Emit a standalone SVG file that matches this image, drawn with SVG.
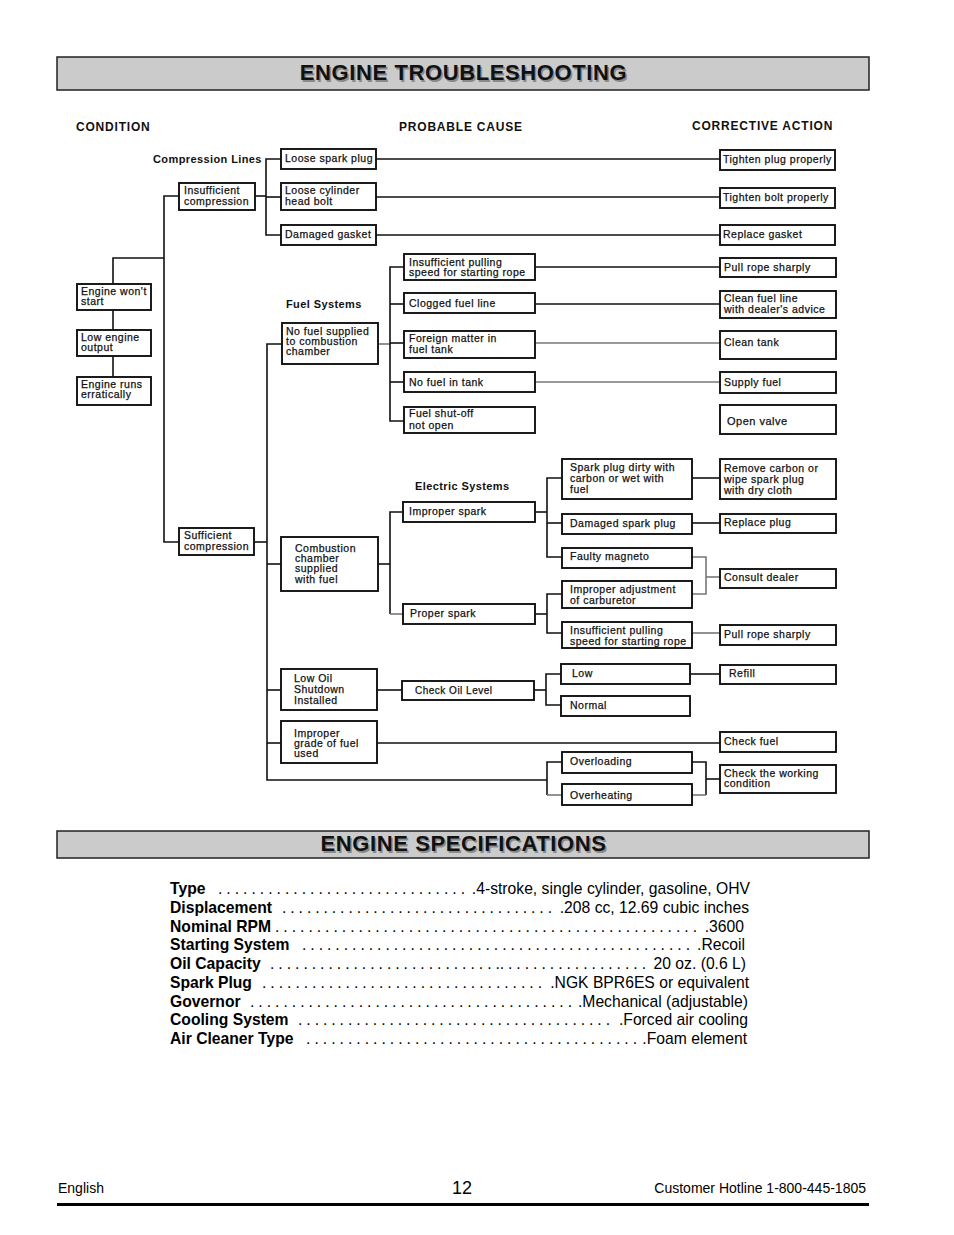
<svg xmlns="http://www.w3.org/2000/svg" width="954" height="1235" viewBox="0 0 954 1235">
<style>
.bx{fill:#fff;stroke:#111;stroke-width:1.9}
.t{font-family:"Liberation Sans",Arial,sans-serif;font-size:10.5px;letter-spacing:0.5px;fill:#111;stroke:#111;stroke-width:0.25}
.h{font-family:"Liberation Sans",Arial,sans-serif;font-size:12px;font-weight:bold;letter-spacing:0.8px;fill:#111}
.s{font-family:"Liberation Sans",Arial,sans-serif;font-size:11px;font-weight:bold;letter-spacing:0.4px;fill:#111}
.c{fill:none;stroke:#111;stroke-width:1.6}
.cg{fill:none;stroke:#777;stroke-width:1.6}
.bar{fill:#cbcbcb;stroke:#222;stroke-width:1.5}
.tt{font-family:"Liberation Sans",Arial,sans-serif;font-size:22px;font-weight:bold;letter-spacing:0.6px;text-anchor:middle}
.sl{font-family:"Liberation Sans",Arial,sans-serif;font-size:15.7px;font-weight:bold;fill:#000}
.sv{font-family:"Liberation Sans",Arial,sans-serif;font-size:15.7px;fill:#000}
.ft{font-family:"Liberation Sans",Arial,sans-serif;font-size:14px;fill:#000}
</style>
<rect width="954" height="1235" fill="#fff"/>

<g id="title-troubleshooting">
<rect class="bar" x="57" y="57" width="812" height="33"/>
<text class="tt" x="465" y="81.5" fill="#8a8a8a">ENGINE TROUBLESHOOTING</text>
<text class="tt" x="463.5" y="80" fill="#111">ENGINE TROUBLESHOOTING</text>
</g>

<g id="column-headers">
<text class="h" x="76" y="131">CONDITION</text>
<text class="h" x="399" y="131">PROBABLE CAUSE</text>
<text class="h" x="692" y="130">CORRECTIVE ACTION</text>
<text class="s" x="153" y="163">Compression Lines</text>
<text class="s" x="286" y="308">Fuel Systems</text>
<text class="s" x="415" y="490">Electric Systems</text>
</g>

<g id="connectors">
<polyline class="c" points="113,284 113,258 164,258"/>
<line class="c" x1="113" y1="310" x2="113" y2="330"/>
<line class="c" x1="113" y1="356" x2="113" y2="377"/>
<polyline class="c" points="179,196 164,196 164,542 179,542"/>
<line class="c" x1="255" y1="196" x2="266" y2="196"/>
<polyline class="c" points="281,159 266,159 266,235 281,235"/>
<line class="c" x1="266" y1="197" x2="281" y2="197"/>
<line class="c" x1="376" y1="159" x2="720" y2="159"/>
<line class="c" x1="376" y1="197" x2="720" y2="197"/>
<line class="c" x1="376" y1="235" x2="720" y2="235"/>
<line class="c" x1="254" y1="542" x2="267" y2="542"/>
<polyline class="c" points="282,344 267,344 267,780 547,780"/>
<line class="cg" x1="378" y1="344" x2="390" y2="344"/>
<polyline class="c" points="404,267 390,267 390,421 404,421"/>
<line class="c" x1="390" y1="304" x2="404" y2="304"/>
<line class="c" x1="390" y1="343" x2="404" y2="343"/>
<line class="c" x1="390" y1="382" x2="404" y2="382"/>
<line class="c" x1="535" y1="267" x2="720" y2="267"/>
<line class="c" x1="535" y1="304" x2="720" y2="304"/>
<line class="cg" x1="535" y1="343" x2="720" y2="343"/>
<line class="cg" x1="535" y1="382" x2="720" y2="382"/>
<line class="c" x1="267" y1="564" x2="281" y2="564"/>
<line class="c" x1="378" y1="564" x2="390" y2="564"/>
<polyline class="c" points="403,512 390,512 390,614"/>
<line class="cg" x1="390" y1="614" x2="403" y2="614"/>
<line class="c" x1="535" y1="512" x2="547" y2="512"/>
<polyline class="c" points="562,478 547,478 547,557 562,557"/>
<line class="c" x1="547" y1="523" x2="562" y2="523"/>
<line class="c" x1="692" y1="478" x2="720" y2="478"/>
<line class="c" x1="692" y1="523" x2="720" y2="523"/>
<polyline class="cg" points="692,557 706,557 706,594 692,594"/>
<line class="cg" x1="706" y1="577" x2="720" y2="577"/>
<line class="c" x1="535" y1="614" x2="547" y2="614"/>
<polyline class="c" points="562,594 547,594 547,633 562,633"/>
<line class="cg" x1="692" y1="633" x2="720" y2="633"/>
<line class="c" x1="267" y1="690" x2="281" y2="690"/>
<line class="c" x1="377" y1="690" x2="402" y2="690"/>
<line class="c" x1="534" y1="690" x2="546" y2="690"/>
<polyline class="c" points="561,674 546,674 546,705 561,705"/>
<line class="c" x1="690" y1="674" x2="720" y2="674"/>
<line class="c" x1="267" y1="743" x2="281" y2="743"/>
<line class="c" x1="377" y1="743" x2="720" y2="743"/>
<polyline class="c" points="562,762 547,762 547,795"/>
<line class="cg" x1="547" y1="795" x2="562" y2="795"/>
<polyline class="c" points="692,762 706,762 706,795"/>
<line class="cg" x1="692" y1="795" x2="706" y2="795"/>
<line class="c" x1="706" y1="779" x2="720" y2="779"/>
</g>

<g id="n-wont-start"><rect class="bx" x="77" y="284" width="74" height="26"/><text class="t" x="81" y="295">Engine won't</text><text class="t" x="81" y="305">start</text></g>
<g id="n-low-output"><rect class="bx" x="77" y="330" width="74" height="26"/><text class="t" x="81" y="341">Low engine</text><text class="t" x="81" y="351">output</text></g>
<g id="n-erratic"><rect class="bx" x="77" y="377" width="74" height="28"/><text class="t" x="81" y="388">Engine runs</text><text class="t" x="81" y="398">erratically</text></g>

<g id="n-insufficient"><rect class="bx" x="179" y="183" width="76" height="27"/><text class="t" x="184" y="194">Insufficient</text><text class="t" x="184" y="205">compression</text></g>
<g id="n-sufficient"><rect class="bx" x="179" y="528" width="75" height="27"/><text class="t" x="184" y="539">Sufficient</text><text class="t" x="184" y="550">compression</text></g>

<g id="n-loose-plug"><rect class="bx" x="281" y="149" width="95" height="20"/><text class="t" x="285" y="162">Loose spark plug</text></g>
<g id="n-loose-bolt"><rect class="bx" x="281" y="183" width="95" height="27"/><text class="t" x="285" y="194">Loose cylinder</text><text class="t" x="285" y="205">head bolt</text></g>
<g id="n-gasket"><rect class="bx" x="281" y="225" width="95" height="20"/><text class="t" x="285" y="238">Damaged gasket</text></g>
<g id="a-tighten-plug"><rect class="bx" x="720" y="150" width="115" height="20"/><text class="t" x="723" y="163">Tighten plug properly</text></g>
<g id="a-tighten-bolt"><rect class="bx" x="720" y="188" width="115" height="20"/><text class="t" x="723" y="201">Tighten bolt properly</text></g>
<g id="a-replace-gasket"><rect class="bx" x="720" y="225" width="115" height="20"/><text class="t" x="723" y="238">Replace gasket</text></g>

<g id="n-no-fuel-supplied"><rect class="bx" x="282" y="323" width="96" height="41"/><text class="t" x="286" y="335">No fuel supplied</text><text class="t" x="286" y="345">to combustion</text><text class="t" x="286" y="355">chamber</text></g>
<g id="n-pulling-1"><rect class="bx" x="404" y="254" width="131" height="26"/><text class="t" x="409" y="266">Insufficient pulling</text><text class="t" x="409" y="276">speed for starting rope</text></g>
<g id="n-clogged"><rect class="bx" x="404" y="293" width="131" height="20"/><text class="t" x="409" y="307">Clogged fuel line</text></g>
<g id="n-foreign"><rect class="bx" x="404" y="331" width="131" height="27"/><text class="t" x="409" y="342">Foreign matter in</text><text class="t" x="409" y="353">fuel tank</text></g>
<g id="n-no-fuel-tank"><rect class="bx" x="404" y="372" width="131" height="20"/><text class="t" x="409" y="386">No fuel in tank</text></g>
<g id="n-shutoff"><rect class="bx" x="404" y="407" width="131" height="26"/><text class="t" x="409" y="417">Fuel shut-off</text><text class="t" x="409" y="429">not open</text></g>
<g id="a-pull-rope-1"><rect class="bx" x="720" y="258" width="116" height="19"/><text class="t" x="724" y="271">Pull rope sharply</text></g>
<g id="a-clean-fuel-line"><rect class="bx" x="720" y="291" width="116" height="27"/><text class="t" x="724" y="302">Clean fuel line</text><text class="t" x="724" y="313">with dealer's advice</text></g>
<g id="a-clean-tank"><rect class="bx" x="720" y="331" width="116" height="28"/><text class="t" x="724" y="346">Clean tank</text></g>
<g id="a-supply-fuel"><rect class="bx" x="720" y="372" width="116" height="21"/><text class="t" x="724" y="386">Supply fuel</text></g>
<g id="a-open-valve"><rect class="bx" x="720" y="405" width="116" height="29"/><text class="t" x="727" y="425" style="font-size:11px">Open valve</text></g>

<g id="n-combustion"><rect class="bx" x="281" y="537" width="97" height="54"/><text class="t" x="295" y="552">Combustion</text><text class="t" x="295" y="562">chamber</text><text class="t" x="295" y="572">supplied</text><text class="t" x="295" y="583">with fuel</text></g>
<g id="n-improper-spark"><rect class="bx" x="403" y="502" width="132" height="20"/><text class="t" x="409" y="515">Improper spark</text></g>
<g id="n-proper-spark"><rect class="bx" x="403" y="604" width="132" height="20"/><text class="t" x="410" y="617">Proper spark</text></g>
<g id="n-plug-dirty"><rect class="bx" x="562" y="459" width="130" height="40"/><text class="t" x="570" y="471">Spark plug dirty with</text><text class="t" x="570" y="482">carbon or wet with</text><text class="t" x="570" y="493">fuel</text></g>
<g id="n-damaged-plug"><rect class="bx" x="562" y="514" width="130" height="20"/><text class="t" x="570" y="527">Damaged spark plug</text></g>
<g id="n-magneto"><rect class="bx" x="562" y="548" width="130" height="20"/><text class="t" x="570" y="560">Faulty magneto</text></g>
<g id="n-carburetor"><rect class="bx" x="562" y="581" width="130" height="27"/><text class="t" x="570" y="593">Improper adjustment</text><text class="t" x="570" y="604">of carburetor</text></g>
<g id="n-pulling-2"><rect class="bx" x="562" y="622" width="130" height="26"/><text class="t" x="570" y="634">Insufficient pulling</text><text class="t" x="570" y="645">speed for starting rope</text></g>
<g id="a-remove-carbon"><rect class="bx" x="720" y="459" width="116" height="40"/><text class="t" x="724" y="472">Remove carbon or</text><text class="t" x="724" y="483">wipe spark plug</text><text class="t" x="724" y="494">with dry cloth</text></g>
<g id="a-replace-plug"><rect class="bx" x="720" y="514" width="116" height="19"/><text class="t" x="724" y="526">Replace plug</text></g>
<g id="a-consult"><rect class="bx" x="720" y="569" width="116" height="19"/><text class="t" x="724" y="581">Consult dealer</text></g>
<g id="a-pull-rope-2"><rect class="bx" x="720" y="625" width="116" height="20"/><text class="t" x="724" y="638">Pull rope sharply</text></g>

<g id="n-low-oil"><rect class="bx" x="281" y="669" width="96" height="41"/><text class="t" x="294" y="682">Low Oil</text><text class="t" x="294" y="693">Shutdown</text><text class="t" x="294" y="704">Installed</text></g>
<g id="n-check-oil"><rect class="bx" x="402" y="681" width="132" height="19"/><text class="t" x="415" y="694" style="font-size:10px">Check Oil Level</text></g>
<g id="n-low"><rect class="bx" x="561" y="664" width="129" height="20"/><text class="t" x="572" y="677">Low</text></g>
<g id="n-normal"><rect class="bx" x="561" y="696" width="129" height="20"/><text class="t" x="570" y="709">Normal</text></g>
<g id="a-refill"><rect class="bx" x="720" y="665" width="116" height="19"/><text class="t" x="729" y="677">Refill</text></g>
<g id="n-improper-grade"><rect class="bx" x="281" y="721" width="96" height="42"/><text class="t" x="294" y="737">Improper</text><text class="t" x="294" y="747">grade of fuel</text><text class="t" x="294" y="757">used</text></g>
<g id="a-check-fuel"><rect class="bx" x="720" y="732" width="116" height="20"/><text class="t" x="724" y="745">Check fuel</text></g>
<g id="n-overloading"><rect class="bx" x="562" y="752" width="130" height="21"/><text class="t" x="570" y="765">Overloading</text></g>
<g id="n-overheating"><rect class="bx" x="562" y="784" width="130" height="21"/><text class="t" x="570" y="799">Overheating</text></g>
<g id="a-check-working"><rect class="bx" x="720" y="765" width="116" height="28"/><text class="t" x="724" y="777">Check the working</text><text class="t" x="724" y="787">condition</text></g>

<g id="title-specifications">
<rect class="bar" x="57" y="831" width="812" height="27"/>
<text class="tt" x="465" y="852.5" fill="#8a8a8a">ENGINE SPECIFICATIONS</text>
<text class="tt" x="463.5" y="851" fill="#111">ENGINE SPECIFICATIONS</text>
</g>

<g id="specifications">
<text class="sl" x="170" y="894">Type</text>
<text class="sv" x="218" y="894" textLength="247" lengthAdjust="spacing">. . . . . . . . . . . . . . . . . . . . . . . . . . . . . .</text>
<text class="sv" x="750" y="894" text-anchor="end">.4-stroke, single cylinder, gasoline, OHV</text>
<text class="sl" x="170" y="913">Displacement</text>
<text class="sv" x="282" y="913" textLength="270" lengthAdjust="spacing">. . . . . . . . . . . . . . . . . . . . . . . . . . . . . . . . .</text>
<text class="sv" x="749" y="913" text-anchor="end">.208 cc, 12.69 cubic inches</text>
<text class="sl" x="170" y="932">Nominal RPM</text>
<text class="sv" x="275" y="932" textLength="422" lengthAdjust="spacing">. . . . . . . . . . . . . . . . . . . . . . . . . . . . . . . . . . . . . . . . . . . . . . . . . . .</text>
<text class="sv" x="744" y="932" text-anchor="end">.3600</text>
<text class="sl" x="170" y="950">Starting System</text>
<text class="sv" x="302" y="950" textLength="388" lengthAdjust="spacing">. . . . . . . . . . . . . . . . . . . . . . . . . . . . . . . . . . . . . . . . . . . . . . .</text>
<text class="sv" x="745" y="950" text-anchor="end">.Recoil</text>
<text class="sl" x="170" y="969">Oil Capacity</text>
<text class="sv" x="270" y="969" textLength="376" lengthAdjust="spacing">. . . . . . . . . . . . . . . . . . . . . . . . . . . .. . . . . . . . . . . . . . . . . .</text>
<text class="sv" x="746" y="969" text-anchor="end">20 oz. (0.6 L)</text>
<text class="sl" x="170" y="988">Spark Plug</text>
<text class="sv" x="262" y="988" textLength="280" lengthAdjust="spacing">. . . . . . . . . . . . . . . . . . . . . . . . . . . . . . . . . .</text>
<text class="sv" x="749" y="988" text-anchor="end">.NGK BPR6ES or equivalent</text>
<text class="sl" x="170" y="1007">Governor</text>
<text class="sv" x="250" y="1007" textLength="322" lengthAdjust="spacing">. . . . . . . . . . . . . . . . . . . . . . . . . . . . . . . . . . . . . . .</text>
<text class="sv" x="748" y="1007" text-anchor="end">.Mechanical (adjustable)</text>
<text class="sl" x="170" y="1025">Cooling System</text>
<text class="sv" x="298" y="1025" textLength="312" lengthAdjust="spacing">. . . . . . . . . . . . . . . . . . . . . . . . . . . . . . . . . . . . . .</text>
<text class="sv" x="748" y="1025" text-anchor="end">.Forced air cooling</text>
<text class="sl" x="170" y="1044">Air Cleaner Type</text>
<text class="sv" x="306" y="1044" textLength="331" lengthAdjust="spacing">. . . . . . . . . . . . . . . . . . . . . . . . . . . . . . . . . . . . . . . .</text>
<text class="sv" x="747" y="1044" text-anchor="end">.Foam element</text>
</g>

<g id="footer">
<text class="ft" x="58" y="1193">English</text>
<text x="462" y="1194" text-anchor="middle" style="font-family:'Liberation Sans',Arial,sans-serif;font-size:18px">12</text>
<text class="ft" x="866" y="1193" text-anchor="end">Customer Hotline 1-800-445-1805</text>
<line x1="57" y1="1204.5" x2="869" y2="1204.5" stroke="#000" stroke-width="3"/>
</g>
</svg>
